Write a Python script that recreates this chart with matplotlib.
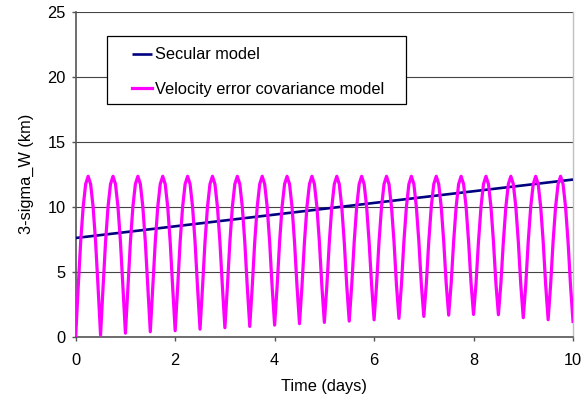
import numpy as np
import matplotlib
matplotlib.use("Agg")
import matplotlib.pyplot as plt
from matplotlib.patches import Rectangle

plt.rcParams['font.family'] = ['Liberation Sans', 'DejaVu Sans']

# secular model
secular_days = [0, 1, 2, 3, 4, 5, 6, 7, 8, 9, 10]
secular_km = [7.6, 8.05, 8.5, 8.95, 9.4, 9.85, 10.3, 10.75, 11.2, 11.65, 12.1]

# velocity error covariance model, sampled every 0.05 day (one row = half a day)
cov_days = np.linspace(0, 10, 201)
cov_km = [
    0.00, 3.80, 7.30, 10.00, 11.75, 12.35, 11.75, 10.00, 7.30, 3.80,
    0.12, 3.80, 7.30, 10.00, 11.75, 12.35, 11.75, 10.00, 7.30, 3.80,
    0.27, 3.80, 7.30, 10.00, 11.75, 12.35, 11.75, 10.00, 7.30, 3.80,
    0.38, 3.80, 7.30, 10.00, 11.75, 12.35, 11.75, 10.00, 7.30, 3.80,
    0.46, 3.80, 7.30, 10.00, 11.75, 12.35, 11.75, 10.00, 7.30, 3.80,
    0.58, 3.80, 7.30, 10.00, 11.75, 12.35, 11.75, 10.00, 7.30, 3.85,
    0.69, 3.85, 7.30, 10.00, 11.75, 12.35, 11.75, 10.00, 7.30, 3.85,
    0.79, 3.85, 7.30, 10.00, 11.75, 12.35, 11.75, 10.00, 7.30, 3.85,
    0.89, 3.85, 7.30, 10.00, 11.75, 12.35, 11.75, 10.00, 7.30, 3.90,
    1.00, 3.90, 7.30, 10.00, 11.75, 12.35, 11.75, 10.00, 7.30, 3.90,
    1.10, 3.90, 7.30, 10.00, 11.75, 12.35, 11.75, 10.00, 7.30, 3.95,
    1.20, 3.95, 7.30, 10.00, 11.75, 12.35, 11.75, 10.00, 7.30, 4.00,
    1.30, 4.00, 7.35, 10.00, 11.75, 12.35, 11.75, 10.00, 7.35, 4.00,
    1.41, 4.00, 7.35, 10.00, 11.75, 12.35, 11.75, 10.00, 7.35, 4.05,
    1.56, 4.05, 7.35, 10.00, 11.75, 12.35, 11.75, 10.00, 7.35, 4.10,
    1.66, 4.10, 7.35, 10.00, 11.75, 12.35, 11.75, 10.00, 7.35, 4.10,
    1.71, 4.10, 7.35, 10.00, 11.75, 12.35, 11.75, 10.00, 7.35, 4.10,
    1.69, 4.10, 7.35, 10.00, 11.75, 12.35, 11.75, 10.00, 7.35, 4.00,
    1.46, 4.00, 7.35, 10.00, 11.75, 12.35, 11.75, 10.00, 7.35, 4.00,
    1.31, 4.00, 7.35, 10.00, 11.75, 12.35, 11.75, 10.00, 7.35, 3.95,
    1.17,
]

x_ticks = [0, 2, 4, 6, 8, 10]
y_ticks = [0, 5, 10, 15, 20, 25]

fs = 11.8

fig = plt.figure(figsize=(5.85, 3.98), dpi=100)
ax = fig.add_axes([75.7 / 585, 61.3 / 398, 497.3 / 585, 324.7 / 398])

ax.plot(secular_days, secular_km, color='#000080', lw=1.9,
        label='Secular model', zorder=3, solid_capstyle='butt')
ax.plot(cov_days, cov_km, color='#ff00ff', lw=2.3,
        label='Velocity error covariance model', zorder=4)

ax.set_xlim(0, 10)
ax.set_ylim(0, 25)
ax.set_xticks(x_ticks)
ax.set_yticks(y_ticks)
ax.yaxis.grid(True, color='#444444', lw=0.8)
ax.set_axisbelow(True)

ax.spines['top'].set_visible(False)
ax.spines['right'].set_color('#c0c0c0')
ax.spines['right'].set_linewidth(1.0)
for s in ['left', 'bottom']:
    ax.spines[s].set_color('#555555')
    ax.spines[s].set_linewidth(1.2)
ax.tick_params(direction='out', length=3, width=1.0, color='#555555',
               labelsize=fs)
ax.tick_params(axis='x', pad=9)
ax.tick_params(axis='y', pad=4)

ax.set_xlabel('Time (days)', fontsize=fs, labelpad=8)
ax.set_ylabel('3-sigma_W (km)', fontsize=fs, labelpad=10)

# legend box (white, black outline) with the entries placed inside
box = Rectangle((0.0635, 0.717), 0.6007, 0.209, transform=ax.transAxes,
                facecolor='white', edgecolor='black', lw=0.9, zorder=5)
ax.add_patch(box)
leg = ax.legend(loc='center left', bbox_to_anchor=(0.1126, 0.8146),
                borderaxespad=0, borderpad=0, frameon=False,
                fontsize=fs, handlelength=1.25, handletextpad=0.2,
                labelspacing=1.2)
leg.set_zorder(6)

fig.savefig('out.png', dpi=100)
